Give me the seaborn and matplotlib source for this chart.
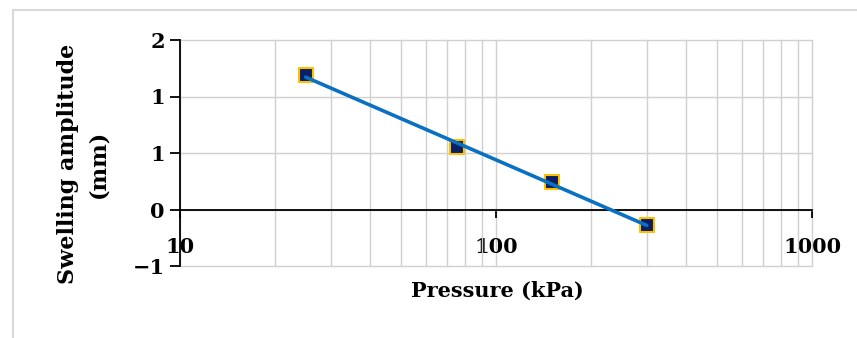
import matplotlib
matplotlib.use("Agg")
import matplotlib.pyplot as plt
import matplotlib.lines as mlines
import seaborn as sns
import numpy as np
import pandas as pd

# ---- data ----
pressure_kpa = [25, 75, 150, 300]
swelling_mm = [1.19, 0.55, 0.24, -0.133]
y_ticks = [-0.5, 0.0, 0.5, 1.0, 1.5]
y_tick_labels = ["\u22121", "0", "1", "1", "2"]
x_ticks = [10, 100, 1000]
x_tick_labels = ["10", "100", "1000"]
x_label = "Pressure (kPa)"
y_label = "Swelling amplitude\n(mm)"

df = pd.DataFrame({"Pressure": pressure_kpa, "Swelling": swelling_mm})

sns.set_theme(style="white")
plt.rcParams["font.family"] = ["DejaVu Serif"]
plt.rcParams["font.weight"] = "bold"
plt.rcParams["text.color"] = "black"
plt.rcParams["axes.labelcolor"] = "black"
plt.rcParams["xtick.color"] = "black"
plt.rcParams["ytick.color"] = "black"

W, H = 857, 338
L, R, T, B = 180, 812, 40, 266
fig = plt.figure(figsize=(W / 100, H / 100), dpi=100)
ax = fig.add_axes([L / W, 1 - B / H, (R - L) / W, (B - T) / H])

ax.set_xscale("log")
ax.set_xlim(10, 1000)
ax.set_ylim(-0.5, 1.5)

# gridlines
grid_c = "#d0d0d0"
ax.set_xticks([v * d for d in (10, 100) for v in range(2, 10)], minor=True)
ax.grid(True, which="major", axis="both", color=grid_c, linewidth=1.0, zorder=0)
ax.grid(True, which="minor", axis="x", color=grid_c, linewidth=1.0, zorder=0)
ax.set_axisbelow(True)

sns.regplot(
    data=df, x="Pressure", y="Swelling", logx=True, ci=None, ax=ax,
    marker="s",
    scatter_kws=dict(s=90, color="#0b1f66", edgecolors="#ffc000", linewidths=1.5, alpha=1, zorder=3),
    line_kws=dict(color="#0a70c2", linewidth=2.6, zorder=4),
)

# spines
for s in ("top", "right"):
    ax.spines[s].set_visible(False)
ax.spines["left"].set_color("black")
ax.spines["left"].set_linewidth(1.3)
ax.spines["bottom"].set_position(("data", 0))
ax.spines["bottom"].set_color("black")
ax.spines["bottom"].set_linewidth(1.3)

ax.set_yticks(y_ticks)
ax.set_yticklabels(y_tick_labels)
ax.set_xticks(x_ticks)
ax.set_xticklabels(x_tick_labels)
ax.tick_params(axis="y", which="major", left=True, direction="out", length=7, width=1.3,
               color="black", labelcolor="black", pad=4, labelsize=15)
ax.tick_params(axis="x", which="major", bottom=True, direction="out", length=6, width=1.3,
               color="black", labelcolor="black", pad=14, labelsize=15)
ax.tick_params(axis="x", which="minor", bottom=False)
for lab in ax.get_xticklabels() + ax.get_yticklabels():
    lab.set_fontweight("bold")

for t in ax.xaxis.get_minor_ticks():
    t.gridline.set_clip_on(False)
for t in ax.xaxis.get_major_ticks() + ax.yaxis.get_major_ticks():
    t.gridline.set_clip_on(False)

ax.set_xlabel(x_label, fontsize=15, fontweight="bold", color="black")
ax.xaxis.set_label_coords(0.5016, -0.11)
ax.xaxis.label.set_va("center")
ax.set_ylabel(y_label, fontsize=16, fontweight="bold", linespacing=1.45, color="black")
ax.yaxis.set_label_coords(-0.153, 0.451)
ax.yaxis.label.set_va("center")

# outer chart border (partially visible)
bc = "#d9d9d9"
fig.add_artist(mlines.Line2D([13 / W, 1.0], [1 - 10 / H, 1 - 10 / H], color=bc, linewidth=1.5,
                             transform=fig.transFigure))
fig.add_artist(mlines.Line2D([13 / W, 13 / W], [1 - 10 / H, 0.0], color=bc, linewidth=1.5,
                             transform=fig.transFigure))

fig.savefig("out.png", dpi=100)
